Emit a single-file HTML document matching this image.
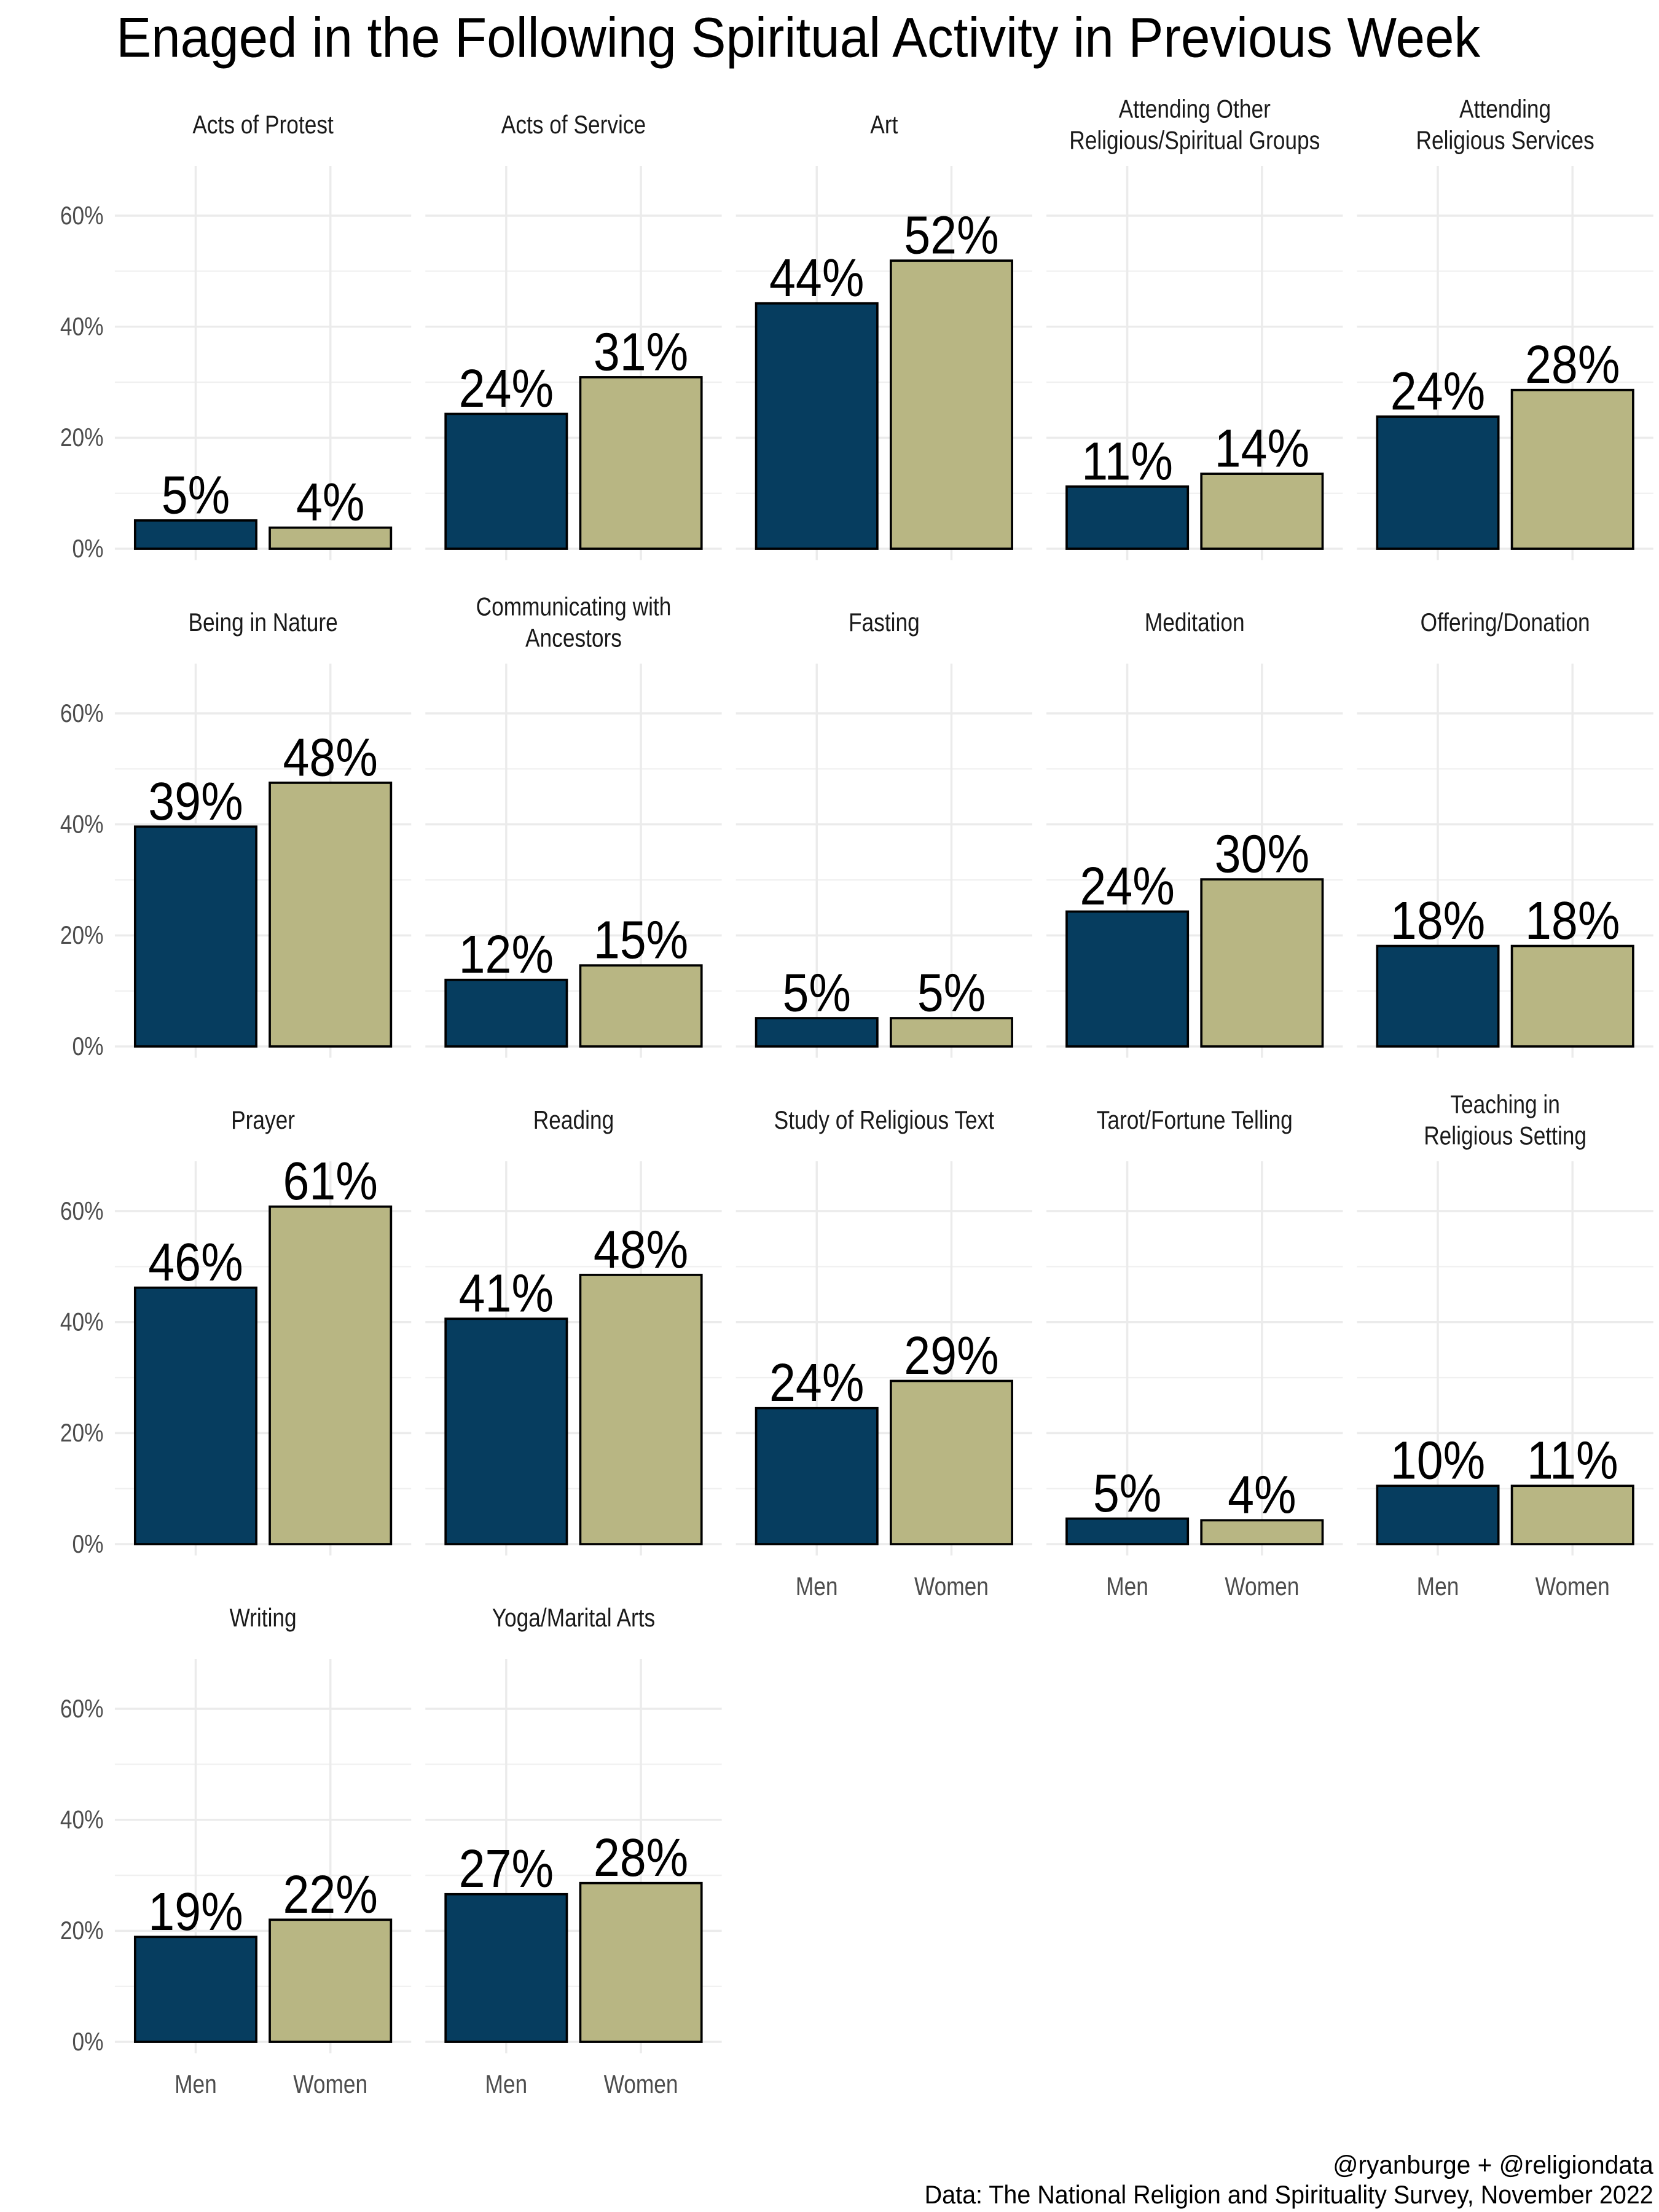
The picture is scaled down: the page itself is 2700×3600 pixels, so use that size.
<!DOCTYPE html>
<html><head><meta charset="utf-8">
<style>
html,body{margin:0;padding:0;background:#fff;}
svg{display:block;}
text{font-family:"Liberation Sans Narrow","Liberation Sans",sans-serif;}
</style></head>
<body>
<svg id="chart" width="2700" height="3600" viewBox="0 0 1170 1560" xmlns="http://www.w3.org/2000/svg">
<rect width="1170" height="1560" fill="#fff"/>
<text x="82" y="40" font-size="40" fill="#000" textLength="962" lengthAdjust="spacingAndGlyphs">Enaged in the Following Spiritual Activity in Previous Week</text>
<text x="1166" y="1533" font-size="18" text-anchor="end" fill="#000" textLength="226" lengthAdjust="spacingAndGlyphs">@ryanburge + @religiondata</text>
<text x="1166" y="1554" font-size="18" text-anchor="end" fill="#000" textLength="514" lengthAdjust="spacingAndGlyphs">Data: The National Religion and Spirituality Survey, November 2022</text>
<g id="panels"></g>
</svg>
<script>
const categories = [["Acts of Protest"],["Acts of Service"],["Art"],["Attending Other","Religious/Spiritual Groups"],["Attending","Religious Services"],
["Being in Nature"],["Communicating with","Ancestors"],["Fasting"],["Meditation"],["Offering/Donation"],
["Prayer"],["Reading"],["Study of Religious Text"],["Tarot/Fortune Telling"],["Teaching in","Religious Setting"],
["Writing"],["Yoga/Marital Arts"]];
const groups = ["Men","Women"];
const menValues = [5.1,24.3,44.2,11.2,23.8,39.6,12.0,5.1,24.3,18.1,46.2,40.6,24.5,4.6,10.5,18.9,26.6];
const womenValues = [3.8,30.9,51.9,13.5,28.6,47.5,14.6,5.1,30.1,18.1,60.8,48.5,29.4,4.3,10.5,22.0,28.6];
const menLabels = ["5%","24%","44%","11%","24%","39%","12%","5%","24%","18%","46%","41%","24%","5%","10%","19%","27%"];
const womenLabels = ["4%","31%","52%","14%","28%","48%","15%","5%","30%","18%","61%","48%","29%","4%","11%","22%","28%"];
const yTicks = [0,20,40,60];
const yTickLabels = ["0%","20%","40%","60%"];

const NS="http://www.w3.org/2000/svg";
const root=document.getElementById('panels');
const COLS=5, PW=209, PSTEP=219, X0=81, ROW0=387, RSTEP=351, PXPER=3.915;
const unit=95;
function mk(tag,attrs,parent){const e=document.createElementNS(NS,tag);for(const k in attrs)e.setAttribute(k,attrs[k]);(parent||root).appendChild(e);return e;}
function txt(parent,x,y,sx,attrs,content){const t=mk('text',Object.assign({x:0,y:0,transform:'translate('+x+','+y+') scale('+sx+',1)'},attrs),parent);t.textContent=content;return t;}
function yScale(v,row){return ROW0+row*RSTEP - v*PXPER;}
function xScale(i,col){return X0+col*PSTEP+unit*0.6+i*unit;}
const nPanels=categories.length;
const slug=s=>s.join(' ').toLowerCase().replace(/[^a-z0-9]+/g,'-').replace(/-$/,'');
for(let p=0;p<nPanels;p++){
  const row=Math.floor(p/COLS), col=p%COLS;
  const g=mk('g',{});
  
  
  const left=X0+col*PSTEP, top=ROW0+row*RSTEP-270, bottom=ROW0+row*RSTEP+8;
  [10,30,50].forEach(v=>{const l=mk('line',{x1:left,x2:left+PW,y1:yScale(v,row),y2:yScale(v,row),stroke:'#f0f0f0','stroke-width':1},g);
    
    });
  yTicks.forEach(v=>{const l=mk('line',{x1:left,x2:left+PW,y1:yScale(v,row),y2:yScale(v,row),stroke:'#ebebeb','stroke-width':1.5},g);
    
    });
  groups.forEach((gr,i)=>{const l=mk('line',{x1:xScale(i,col),x2:xScale(i,col),y1:top,y2:bottom,stroke:'#ebebeb','stroke-width':1.5},g);
    
    });
  const lines=categories[p];
  lines.forEach((t,k)=>{const tx=txt(g,left+PW/2,(lines.length==1?94:83+k*22)+row*RSTEP,0.85,{'font-size':18,'text-anchor':'middle',fill:'#1a1a1a'},t);
    
    });
  const vals=[menValues[p],womenValues[p]], labs=[menLabels[p],womenLabels[p]], cols=['#063d5f','#b8b683'];
  vals.forEach((v,i)=>{
    const cx=xScale(i,col), w=unit*0.9, y0=yScale(0,row), y1=yScale(v,row);
    const r=mk('rect',{x:cx-w/2,y:y1,width:w,height:y0-y1,fill:cols[i],stroke:'#000','stroke-width':1.6},g);
    
    
    const t=txt(g,cx,y1-5,0.88,{'font-size':38,'text-anchor':'middle',fill:'#000'},labs[i]);
    
    
  });
  if(col==0){yTicks.forEach((v,k)=>{const t=txt(g,73,yScale(v,row)+6,0.85,{'font-size':18,'text-anchor':'end',fill:'#4d4d4d'},yTickLabels[k]);
    
    });}
  const below=p+COLS;
  if(below>=nPanels){groups.forEach((gr,i)=>{const t=txt(g,xScale(i,col),ROW0+row*RSTEP+36,0.85,{'font-size':18,'text-anchor':'middle',fill:'#4d4d4d'},gr);
    
    });}
}
</script>
</body></html>
